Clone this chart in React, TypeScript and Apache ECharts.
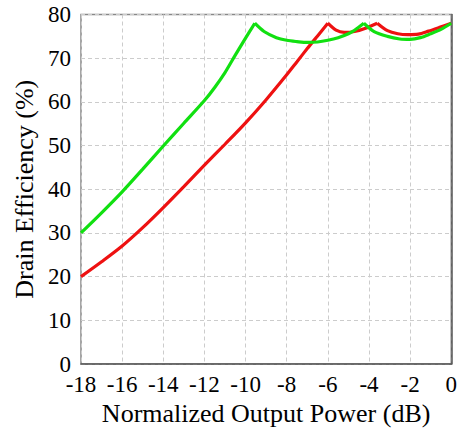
import React, { useEffect, useRef } from "react";
import * as echarts from "echarts";

const xTicks = [-18, -16, -14, -12, -10, -8, -6, -4, -2, 0];

const redPower = [
  -18, -17, -16, -15, -14, -13, -12, -11, -10, -9, -8, -7.5, -7, -6.5, -6,
  -5.6, -5.2, -4.7, -4.2, -3.6, -3.1, -2.6, -2.1, -1.6, -1.1, -0.6, 0,
];
const redEff = [
  20, 23.4, 27.0, 31.2, 35.8, 40.6, 45.5, 50.3, 55.2, 60.5, 66.2, 69.2, 72.2, 75.1, 78,
  76.4, 75.9, 76.1, 76.8, 78, 76.3, 75.6, 75.4, 75.5, 76.2, 77.0, 78,
];
const redCusps = [-6, -3.6];

const greenPower = [
  -18, -17, -16, -15, -14, -13, -12, -11.5, -11, -10.5, -10, -9.55,
  -9.1, -8.5, -8, -7.5, -7, -6.5, -6, -5.5, -5, -4.7, -4.25,
  -3.75, -3.1, -2.5, -2, -1.5, -1, -0.5, 0,
];
const greenEff = [
  30, 34.6, 39.4, 44.6, 49.9, 55.1, 60.3, 63.3, 66.7, 70.7, 74.6, 78,
  76.1, 74.7, 74.1, 73.8, 73.6, 73.7, 74.1, 74.7, 75.6, 76.4, 78,
  76.1, 75.0, 74.4, 74.3, 74.7, 75.6, 76.6, 78,
];
const greenCusps = [-9.55, -4.25];

// split a curve into smooth pieces at its cusps (cusp point shared by neighbours)
const segments = (xs: number[], ys: number[], cusps: number[]) => {
  const out: number[][][] = [];
  let cur: number[][] = [];
  xs.forEach((x, i) => {
    cur.push([x, ys[i]]);
    if (cusps.includes(x)) {
      out.push(cur);
      cur = [[x, ys[i]]];
    }
  });
  out.push(cur);
  return out;
};

export default function App() {
  const ref = useRef<HTMLDivElement>(null);
  useEffect(() => {
    if (!ref.current) return;
    const chart = echarts.init(ref.current, null, { renderer: "svg" });
    const font = "Liberation Serif";
    const mk = (segs: number[][][], color: string, z: number) =>
      segs.map((d) => ({
        type: "line",
        data: d,
        showSymbol: false,
        smooth: 0.3,
        lineStyle: { color, width: 3.2 },
        z,
      }));
    chart.setOption({
      animation: false,
      textStyle: { fontFamily: font },
      grid: {
        left: 81,
        right: 7,
        top: 14.5,
        bottom: 68,
        show: true,
        borderColor: "#888",
        borderWidth: 1.5,
        backgroundColor: "transparent",
      },
      xAxis: {
        type: "value",
        min: -18,
        max: 0,
        interval: 2,
        name: "Normalized Output Power (dB)",
        nameLocation: "middle",
        nameGap: 34,
        nameTextStyle: { fontFamily: font, fontSize: 26, color: "#000" },
        axisLine: { show: true, onZero: false, lineStyle: { color: "#555", width: 1.5 } },
        axisTick: { show: false },
        axisLabel: {
          fontFamily: font,
          fontSize: 23,
          color: "#000",
          margin: 9,
          formatter: (v: number) => (xTicks.includes(v) ? String(v) : ""),
        },
        splitLine: { show: true, lineStyle: { color: "#ccc", type: [4, 3], width: 1 } },
      },
      yAxis: {
        type: "value",
        min: 0,
        max: 80,
        interval: 10,
        name: "Drain Efficiency (%)",
        nameLocation: "middle",
        nameRotate: 90,
        nameGap: 42,
        nameTextStyle: { fontFamily: font, fontSize: 26, color: "#000" },
        axisLine: { show: true, lineStyle: { color: "#555", width: 1.5 } },
        axisTick: { show: false },
        axisLabel: { fontFamily: font, fontSize: 23, color: "#000", margin: 10 },
        splitLine: { show: true, lineStyle: { color: "#ccc", type: [4, 3], width: 1 } },
      },
      series: [
        ...mk(segments(redPower, redEff, redCusps), "#ee1111", 2),
        ...mk(segments(greenPower, greenEff, greenCusps), "#11e011", 3),
      ],
    });
    return () => chart.dispose();
  }, []);
  return (
    <div
      ref={ref}
      style={{ position: "fixed", left: 0, top: 0, width: 460, height: 432, background: "#fff" }}
    />
  );
}
